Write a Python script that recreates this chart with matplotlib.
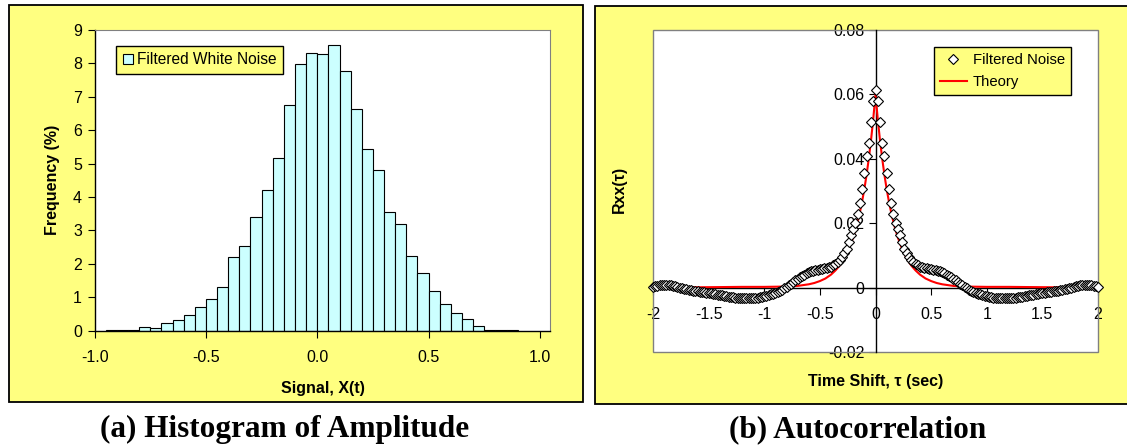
"""
Filtered white noise: amplitude histogram and autocorrelation
two Excel-style panels side by side, saved to out.png
"""

import numpy as np
import matplotlib
matplotlib.use('Agg')
import matplotlib.pyplot as plt
from matplotlib.patches import Rectangle

plt.rcParams['font.family'] = ['Liberation Sans', 'DejaVu Sans']
plt.rcParams['axes.unicode_minus'] = False

# ============================================
# DATA
# ============================================
# histogram: bins of width 0.05 starting at -0.95, frequency in %
bin_start = -0.95
bin_width = 0.05
freq_pct = [0.03, 0.03, 0.03, 0.11, 0.07, 0.22, 0.31, 0.48, 0.71, 0.94,
            1.32, 2.22, 2.54, 3.40, 4.20, 5.18, 6.75, 7.98, 8.32, 8.27,
            8.54, 7.77, 6.65, 5.44, 4.80, 3.54, 3.20, 2.25, 1.74, 1.20,
            0.81, 0.54, 0.34, 0.14, 0.03, 0.03, 0.03]
hist_xticks = [-1.0, -0.5, 0.0, 0.5, 1.0]

# autocorrelation for lags 0, 0.02, ... 2.0 sec (symmetric in tau)
lag_step = 0.02
rxx_pos = [0.0615, 0.0580, 0.0515, 0.0450, 0.0408, 0.0355, 0.0308, 0.0262,
           0.0228, 0.0202, 0.0184, 0.0165, 0.0143, 0.0122, 0.0107, 0.0095,
           0.0086, 0.0079, 0.0075, 0.0070, 0.0066, 0.0064, 0.0063, 0.0061,
           0.0060, 0.0058, 0.0056, 0.0055, 0.0053, 0.0051, 0.0048, 0.0045,
           0.0041, 0.0037, 0.0033, 0.0028, 0.0023, 0.0018, 0.0013, 0.0008,
           0.0002, -0.0002, -0.0006, -0.0009, -0.0012, -0.0015, -0.0018,
           -0.0020, -0.0022, -0.0024, -0.0026, -0.0028, -0.0029, -0.0030,
           -0.0031, -0.0031, -0.0032, -0.0032, -0.0032, -0.0032, -0.0032,
           -0.0031, -0.0030, -0.0030, -0.0029, -0.0028, -0.0027, -0.0025,
           -0.0024, -0.0023, -0.0022, -0.0021, -0.0020, -0.0018, -0.0017,
           -0.0016, -0.0015, -0.0014, -0.0013, -0.0012, -0.0011, -0.0010,
           -0.0009, -0.0008, -0.0006, -0.0005, -0.0003, -0.0001, 0.0001,
           0.0003, 0.0005, 0.0006, 0.0008, 0.0009, 0.0009, 0.0009, 0.0009,
           0.0008, 0.0007, 0.0005, 0.0002]

# theory curve (red line), positive lags only
theory_lag = [0.0, 0.02, 0.04, 0.06, 0.08, 0.10, 0.12, 0.14, 0.16, 0.18,
              0.20, 0.24, 0.28, 0.32, 0.36, 0.40, 0.45, 0.50, 0.55, 0.60,
              0.70, 0.80, 1.00, 1.20, 1.50, 2.00]
theory_val = [0.0600, 0.0525, 0.0459, 0.0402, 0.0351, 0.0307, 0.0269, 0.0235,
              0.0206, 0.0180, 0.0157, 0.0120, 0.0092, 0.0070, 0.0054, 0.0041,
              0.0029, 0.0021, 0.0015, 0.0011, 0.0006, 0.0004, 0.0003, 0.0003,
              0.0002, 0.0001]

acf_xticks = [-2, -1.5, -1, -0.5, 0, 0.5, 1, 1.5, 2]
acf_yticks = [-0.02, 0, 0.02, 0.04, 0.06, 0.08]

# ============================================
# LAYOUT HELPERS (pixel boxes, origin top-left)
# ============================================
W, H = 1127, 448
YELLOW = '#FFFF80'
GREY = '#808080'
TICK_FS = 11.5
LABEL_FS = 11.5


def px_rect(x0, y0, x1, y1):
    """pixel box -> [left, bottom, width, height] in figure fraction"""
    return [x0 / W, 1 - y1 / H, (x1 - x0) / W, (y1 - y0) / H]


def chart_area(fig, x0, y0, x1, y1):
    r = px_rect(x0, y0, x1, y1)
    fig.add_artist(Rectangle((r[0], r[1]), r[2], r[3], transform=fig.transFigure,
                             facecolor=YELLOW, edgecolor='black', linewidth=1.3,
                             zorder=-1))


# ============================================
# PANEL (a): histogram
# ============================================
def plot_hist(fig):
    ax = fig.add_axes(px_rect(94.6, 30, 550, 330.7))
    lefts = bin_start + bin_width * np.arange(len(freq_pct))
    ax.bar(lefts, freq_pct, width=bin_width, align='edge', color='#CCFFFF',
           edgecolor='black', linewidth=0.8, label='Filtered White Noise')

    ax.set_xlim(-1.0, 1.045)
    ax.set_ylim(0, 9)
    ax.set_xticks(hist_xticks)
    ax.set_xticklabels([f'{v:.1f}' for v in hist_xticks])
    ax.set_yticks(range(10))
    ax.tick_params(axis='both', direction='out', length=5, width=0.8,
                   labelsize=TICK_FS, color='black')
    ax.tick_params(axis='x', pad=9)
    ax.tick_params(axis='y', pad=4)
    for s in ['top', 'right']:
        ax.spines[s].set_color(GREY)
    ax.spines['left'].set_linewidth(1.0)
    ax.spines['bottom'].set_linewidth(1.0)

    ax.set_xlabel('Signal, X(t)', fontsize=LABEL_FS, fontweight='bold')
    ax.set_ylabel('Frequency (%)', fontsize=LABEL_FS, fontweight='bold')
    ax.xaxis.set_label_coords(0.5015, -0.167)
    ax.yaxis.set_label_coords(-0.077, 0.5)

    leg = ax.legend(loc='upper left', bbox_to_anchor=(0.047, 0.947),
                    borderaxespad=0, fontsize=11.2, fancybox=False,
                    facecolor=YELLOW, edgecolor='black', framealpha=1,
                    handlelength=0.7, handleheight=0.7, handletextpad=0.25,
                    borderpad=0.42)
    leg.get_frame().set_linewidth(1.0)


# ============================================
# PANEL (b): autocorrelation
# ============================================
def plot_acf(fig):
    ax = fig.add_axes(px_rect(653, 30, 1098, 352.3))

    lags = lag_step * np.arange(len(rxx_pos))
    tau = np.concatenate([-lags[:0:-1], lags])
    rxx = np.concatenate([rxx_pos[:0:-1], rxx_pos])
    t_lag = np.array(theory_lag)
    t_tau = np.concatenate([-t_lag[:0:-1], t_lag])
    t_val = np.concatenate([theory_val[:0:-1], theory_val])

    ax.plot(t_tau, t_val, color='red', linewidth=1.5, zorder=2, label='Theory')
    ax.plot(tau, rxx, linestyle='none', marker='D', markersize=5.4,
            markerfacecolor='white', markeredgecolor='black',
            markeredgewidth=0.8, zorder=3, clip_on=False,
            label='Filtered Noise')

    ax.set_xlim(-2, 2)
    ax.set_ylim(-0.02, 0.08)
    ax.set_xticks(acf_xticks)
    ax.set_xticklabels([f'{v:g}' for v in acf_xticks])
    ax.set_yticks(acf_yticks)
    ax.set_yticklabels([f'{v:g}' for v in acf_yticks])

    # axes cross at zero, grey border round the plot area
    ax.spines['left'].set_position(('data', 0))
    ax.spines['bottom'].set_position(('data', 0))
    for s in ['left', 'bottom']:
        ax.spines[s].set_zorder(1.8)
        ax.spines[s].set_linewidth(1.0)
    for s in ['top', 'right']:
        ax.spines[s].set_visible(False)
    ax.add_patch(Rectangle((0, 0), 1, 1, transform=ax.transAxes, fill=False,
                           edgecolor=GREY, linewidth=1.0, zorder=1.7,
                           clip_on=False))
    ax.tick_params(axis='both', direction='out', length=5, width=0.8,
                   labelsize=TICK_FS, color='black')
    ax.tick_params(axis='x', pad=9)
    ax.tick_params(axis='y', pad=3)

    ax.set_xlabel('Time Shift, τ (sec)', fontsize=LABEL_FS, fontweight='bold')
    ax.set_ylabel('Rxx(τ)', fontsize=LABEL_FS, fontweight='bold')
    ax.xaxis.set_label_coords(0.501, -0.0675)
    ax.yaxis.set_label_coords(-0.058, 0.505)

    handles, labels = ax.get_legend_handles_labels()
    leg = ax.legend(handles[::-1], labels[::-1], loc='upper right',
                    bbox_to_anchor=(0.9387, 0.947), borderaxespad=0,
                    fontsize=10.7, fancybox=False, facecolor=YELLOW,
                    edgecolor='black', framealpha=1, handlelength=1.8,
                    handletextpad=0.4, borderpad=0.4, labelspacing=0.55)
    leg.get_frame().set_linewidth(1.0)


# ============================================
# RUN IT
# ============================================
if __name__ == "__main__":
    fig = plt.figure(figsize=(W / 100, H / 100), dpi=100)
    fig.patch.set_facecolor('white')

    chart_area(fig, 9, 5, 583, 402)
    chart_area(fig, 595, 6, 1135, 404)

    plot_hist(fig)
    plot_acf(fig)

    cap = dict(ha='center', va='baseline', family=['Liberation Serif'],
               fontweight='bold', fontsize=22.5)
    fig.text(285 / W, 1 - 437 / H, '(a) Histogram of Amplitude', **cap)
    fig.text(858 / W, 1 - 437 / H, '(b) Autocorrelation', **cap)

    fig.savefig('out.png', dpi=100, facecolor='white')
